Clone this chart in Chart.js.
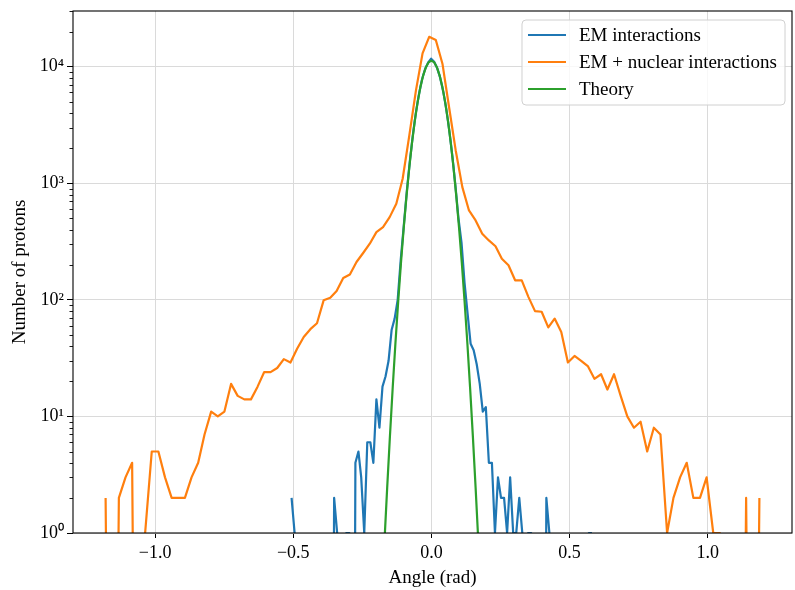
<!DOCTYPE html>
<html>
<head>
<meta charset="utf-8">
<script src="https://cdn.jsdelivr.net/npm/chart.js@4.4.1/dist/chart.umd.min.js"></script>
<style>
  html, body { margin: 0; padding: 0; background: #fff; }
  canvas { display: block; }
</style>
</head>
<body>
<canvas id="angleChart" width="795" height="590"></canvas>
<script>
// Axis ticks
const xTickValues = [-1, -0.5, 0, 0.5, 1];
const xTickLabels = ['\u22121.0', '\u22120.5', '0.0', '0.5', '1.0'];
const yTickValues = [1, 10, 100, 1000, 10000];
const yTickLabels = ['10\u2070', '10\u00b9', '10\u00b2', '10\u00b3', '10\u2074'];

// EM interactions only (bin centres in rad, counts)
const emAngles = [
  -0.506, -0.495, -0.484, -0.473, -0.462, -0.451, -0.440, -0.429, -0.418, -0.407,
  -0.396, -0.385, -0.374, -0.363, -0.352, -0.341, -0.330, -0.319, -0.308, -0.297,
  -0.286, -0.275, -0.264, -0.254, -0.243, -0.232, -0.221, -0.210, -0.199, -0.188,
  -0.177, -0.166, -0.155, -0.144, -0.133, -0.122, -0.111, -0.100, -0.089, -0.078,
  -0.067, -0.056, -0.045, -0.034, -0.023, -0.012, -0.001, 0.010, 0.021, 0.032,
  0.043, 0.054, 0.065, 0.076, 0.087, 0.098, 0.109, 0.120, 0.131, 0.142,
  0.153, 0.164, 0.175, 0.186, 0.197, 0.208, 0.219, 0.230, 0.241, 0.252,
  0.263, 0.274, 0.285, 0.296, 0.307, 0.318, 0.329, 0.340, 0.350, 0.361,
  0.372, 0.383, 0.394, 0.405, 0.416, 0.427, 0.438, 0.449, 0.460, 0.471,
  0.482, 0.493, 0.504, 0.515, 0.526, 0.537, 0.548, 0.559, 0.570, 0.581
];
const emCounts = [
  2, 1, 0, 0, 0, 0, 0, 0, 0, 0,
  0, 0, 0, 0, 2, 1, 0, 0, 1, 1,
  0, 4, 5, 3, 1, 6, 6, 4, 14, 8,
  18, 22, 30, 55, 69, 100, 220, 430, 850, 1540,
  2600, 4050, 5800, 7750, 9500, 10800, 11700, 11000, 9700, 8000,
  6100, 4300, 2800, 1700, 950, 500, 310, 140, 76, 42,
  37, 28, 19, 11, 12, 4, 4, 1, 3, 2,
  2, 1, 3, 1, 1, 2, 1, 0, 1, 1,
  0, 0, 0, 0, 2, 1, 0, 0, 0, 0,
  0, 0, 0, 0, 0, 0, 0, 0, 1, 1
];

// EM + nuclear interactions
const nucAngles = [
  -1.179, -1.155, -1.131, -1.107, -1.083, -1.060, -1.036, -1.012, -0.988, -0.964,
  -0.940, -0.916, -0.892, -0.868, -0.844, -0.821, -0.797, -0.773, -0.749, -0.725,
  -0.701, -0.677, -0.653, -0.629, -0.605, -0.582, -0.558, -0.534, -0.510, -0.486,
  -0.462, -0.438, -0.414, -0.390, -0.366, -0.343, -0.319, -0.295, -0.271, -0.247,
  -0.223, -0.199, -0.175, -0.151, -0.127, -0.104, -0.080, -0.056, -0.032, -0.008,
  0.016, 0.040, 0.064, 0.088, 0.112, 0.136, 0.160, 0.184, 0.208, 0.232,
  0.255, 0.279, 0.303, 0.327, 0.351, 0.375, 0.399, 0.423, 0.446, 0.470,
  0.494, 0.518, 0.542, 0.566, 0.590, 0.614, 0.637, 0.661, 0.685, 0.709,
  0.733, 0.757, 0.781, 0.805, 0.829, 0.853, 0.876, 0.900, 0.924, 0.948,
  0.972, 0.996, 1.020, 1.044, 1.068, 1.092, 1.115, 1.139, 1.163, 1.187
];
const nucCounts = [
  2, 0, 2, 3, 4, 0, 1, 5, 5, 3,
  2, 2, 2, 3, 4, 7, 11, 10, 11, 19,
  15, 14, 14, 18, 24, 24, 26, 31, 29, 38,
  48, 56, 63, 99, 104, 119, 154, 165, 211, 252,
  303, 381, 421, 512, 667, 1092, 2564, 6230, 13000, 18000,
  16900, 10600, 4480, 1910, 925, 584, 480, 369, 323, 288,
  225, 198, 147, 147, 106, 80, 79, 58, 69, 53,
  29, 33, 30, 27, 21, 23, 17, 23, 15, 10,
  8, 9, 5, 8, 7, 1, 2, 3, 4, 2,
  2, 3, 1, 1, 0, 0, 0, 2, 0, 2
];

// Theory curve
const theoryAngles = [
  -0.18, -0.17, -0.16, -0.15, -0.14, -0.13, -0.12, -0.11, -0.10, -0.09,
  -0.08, -0.07, -0.06, -0.05, -0.04, -0.03, -0.02, -0.01, 0.00,
  0.01, 0.02, 0.03, 0.04, 0.05, 0.06, 0.07, 0.08, 0.09,
  0.10, 0.11, 0.12, 0.13, 0.14, 0.15, 0.16, 0.17, 0.18
];
const theoryCounts = [
  0.26, 0.83, 2.45, 6.8, 17.7, 43, 98, 209, 417, 780,
  1366, 2240, 3440, 4940, 6640, 8360, 9860, 10890, 11250,
  10890, 9860, 8360, 6640, 4940, 3440, 2240, 1366, 780,
  417, 209, 98, 43, 17.7, 6.8, 2.45, 0.83, 0.26
];

// empty bins cannot sit on a log axis, push them far below it so the line drops off the plot
const toPoints = (xs, ys) => xs.map((x, i) => ({ x: x, y: ys[i] > 0 ? ys[i] : 1e-6 }));

const FONT = '"Liberation Serif", "Times New Roman", serif';
Chart.defaults.font.family = FONT;
Chart.defaults.color = '#000';

// Frame, minor log ticks and the legend box inside the axes
const framePlugin = {
  id: 'framePlugin',
  afterDatasetsDraw(chart) {
    const { ctx, chartArea: a } = chart;
    const y = chart.scales.y;
    ctx.save();

    ctx.strokeStyle = '#000';
    ctx.lineWidth = 0.9;
    ctx.beginPath();
    yTickValues.forEach(dec => {
      for (let m = 2; m <= 9; m++) {
        const v = dec * m;
        if (v > y.max) break;
        const py = Math.round(y.getPixelForValue(v)) + 0.5;
        ctx.moveTo(a.left, py);
        ctx.lineTo(a.left - 3.5, py);
      }
    });
    ctx.stroke();

    ctx.lineWidth = 1.1;
    ctx.strokeRect(a.left, a.top, a.right - a.left, a.bottom - a.top);

    // legend
    ctx.font = '19px ' + FONT;
    const sets = chart.data.datasets;
    const textW = Math.max(...sets.map(d => ctx.measureText(d.label).width));
    const rowH = 27, padL = 6, sample = 38, gap = 13, padR = 8;
    const w = padL + sample + gap + textW + padR;
    const h = rowH * (sets.length - 1) + 31;
    const bx = a.right - 7 - w, by = a.top + 9;
    ctx.beginPath();
    ctx.roundRect(bx, by, w, h, 4);
    ctx.fillStyle = 'rgba(255,255,255,0.8)';
    ctx.fill();
    ctx.strokeStyle = '#d0d0d0';
    ctx.lineWidth = 1;
    ctx.stroke();
    ctx.textBaseline = 'middle';
    ctx.textAlign = 'left';
    sets.forEach((d, i) => {
      const ry = by + 15 + i * rowH;
      ctx.strokeStyle = d.borderColor;
      ctx.lineWidth = 2.2;
      ctx.beginPath();
      ctx.moveTo(bx + padL, ry);
      ctx.lineTo(bx + padL + sample, ry);
      ctx.stroke();
      ctx.fillStyle = '#000';
      ctx.fillText(d.label, bx + padL + sample + gap, ry + 1);
    });
    ctx.restore();
  }
};

const ctx = document.getElementById('angleChart').getContext('2d');

new Chart(ctx, {
  type: 'line',
  data: {
    datasets: [
      {
        label: 'EM interactions',
        data: toPoints(emAngles, emCounts),
        borderColor: '#1f77b4',
        order: 3
      },
      {
        label: 'EM + nuclear interactions',
        data: toPoints(nucAngles, nucCounts),
        borderColor: '#ff7f0e',
        order: 2
      },
      {
        label: 'Theory',
        data: toPoints(theoryAngles, theoryCounts),
        borderColor: '#2ca02c',
        order: 1
      }
    ]
  },
  options: {
    responsive: false,
    animation: false,
    devicePixelRatio: 1,
    layout: { padding: { top: 11, right: 3, left: 0, bottom: 0 } },
    elements: {
      line: { borderWidth: 2.2, tension: 0, fill: false, borderJoinStyle: 'round' },
      point: { radius: 0, hoverRadius: 0 }
    },
    datasets: { line: { clip: 0 } },
    plugins: {
      legend: { display: false },
      tooltip: { enabled: false }
    },
    scales: {
      x: {
        type: 'linear',
        min: -1.297,
        max: 1.305,
        afterBuildTicks: s => { s.ticks = xTickValues.map(v => ({ value: v })); },
        afterFit: s => { s.height = 57; s.paddingLeft = 0; s.paddingRight = 0; },
        ticks: {
          font: { size: 18 },
          padding: 4,
          maxRotation: 0,
          callback: v => xTickLabels[xTickValues.indexOf(v)]
        },
        grid: { color: '#dadada', lineWidth: 1, tickColor: '#000', tickLength: 5 },
        border: { display: false },
        title: { display: true, text: 'Angle (rad)', font: { size: 19 }, padding: { top: 0, bottom: 1 } }
      },
      y: {
        type: 'logarithmic',
        min: 1,
        max: 30000,
        afterBuildTicks: s => { s.ticks = yTickValues.map(v => ({ value: v })); },
        afterFit: s => { s.width = 73; s.paddingTop = 0; s.paddingBottom = 0; },
        ticks: {
          font: { size: 18 },
          padding: 3,
          callback: v => yTickLabels[yTickValues.indexOf(v)]
        },
        grid: { color: '#dadada', lineWidth: 1, tickColor: '#000', tickLength: 6 },
        border: { display: false },
        title: { display: true, text: 'Number of protons', font: { size: 19 }, padding: { top: 9, bottom: 0 } }
      }
    }
  },
  plugins: [framePlugin]
});
</script>
</body>
</html>
